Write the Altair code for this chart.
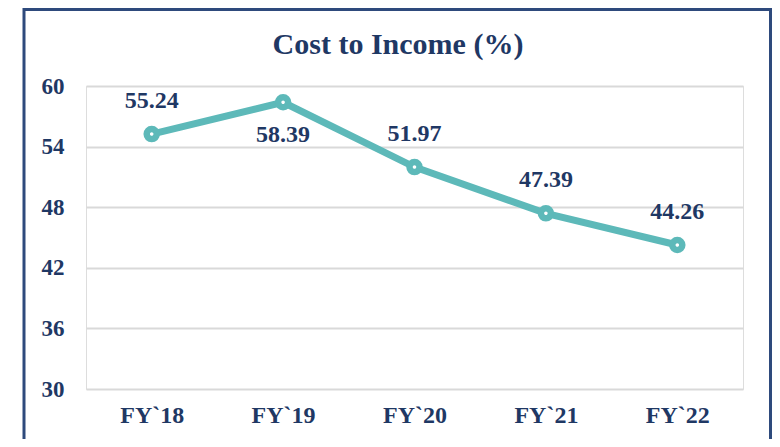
import altair as alt
import pandas as pd

years = ["FY`18", "FY`19", "FY`20", "FY`21", "FY`22"]
values = [55.24, 58.39, 51.97, 47.39, 44.26]
below = ["FY`19"]
y_ticks = [30, 36, 42, 48, 54, 60]
title_text = "Cost to Income (%)"

df = pd.DataFrame({"year": years, "value": values})
df["label"] = [f"{v:.2f}" for v in values]

NAVY = "#1F3864"
TEAL = "#5DB9B9"
FONT = "Liberation Serif"

x = alt.X("year:N", sort=years, title=None,
          scale=alt.Scale(paddingOuter=0.5),
          axis=alt.Axis(labelAngle=0, domain=False, ticks=False, grid=False,
                        labelFont=FONT, labelFontSize=24, labelFontWeight="bold",
                        labelColor=NAVY, labelPadding=14))
y = alt.Y("value:Q", title=None,
          scale=alt.Scale(domain=[30, 60], nice=False, zero=False),
          axis=alt.Axis(values=y_ticks, domain=False, ticks=False, grid=True,
                        gridColor="#D9D9D9", gridWidth=2,
                        labelFont=FONT, labelFontSize=23, labelFontWeight="bold",
                        labelColor=NAVY, labelPadding=22))

base = alt.Chart(df)
first = base.transform_filter(alt.datum.year == years[0])

frame = first.mark_rect(fill=None, stroke="#2E4A7C", strokeWidth=3).encode(
    x=alt.value(-62), x2=alt.value(684.5), y=alt.value(-76.5), y2=alt.value(420))

title = first.mark_text(text=title_text, font=FONT, fontSize=30, fontWeight="bold",
                        color=NAVY, align="center", baseline="alphabetic").encode(
    x=alt.value(312), y=alt.value(-32))

line = base.mark_line(color=TEAL, strokeWidth=7).encode(x=x, y=y)
points = base.mark_point(shape="circle", filled=False, fill="white", fillOpacity=1,
                         stroke=TEAL, strokeWidth=6.5, size=100, opacity=1).encode(x=x, y=y)

lab_above = base.transform_filter(
    ~alt.FieldOneOfPredicate(field="year", oneOf=below)
).mark_text(dy=-33, font=FONT, fontSize=24, fontWeight="bold", color=NAVY).encode(
    x=x, y=y, text="label:N")
lab_below = base.transform_filter(
    alt.FieldOneOfPredicate(field="year", oneOf=below)
).mark_text(dy=33, font=FONT, fontSize=24, fontWeight="bold", color=NAVY).encode(
    x=x, y=y, text="label:N")

chart = alt.layer(frame, title, line, points, lab_above, lab_below).properties(
    width=657, height=303,
    autosize=alt.AutoSizeParams(type="none"),
    padding={"left": 78, "top": 78, "right": 29, "bottom": 50},
).configure_view(stroke=None).configure(background="white")

chart.save("out.html", embed_options={"renderer": "svg", "actions": False})
